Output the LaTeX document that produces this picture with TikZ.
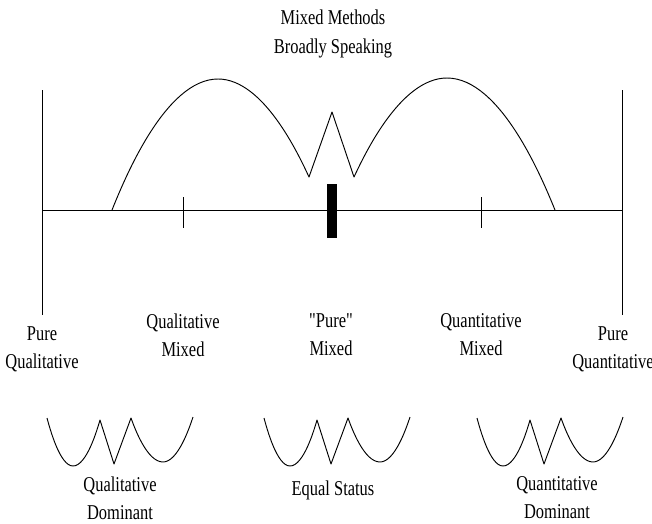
\documentclass[tikz,border=0pt]{standalone}
\usepackage{fontspec}
\setmainfont[FakeStretch=0.78]{Liberation Serif}
\newfontfamily\rawserif[FakeStretch=0.78]{Liberation Serif}
\usepackage{tikz}
\usetikzlibrary{positioning,calc}

\begin{document}
\begin{tikzpicture}[
    x=0.03cm, y=-0.03cm,
    lbl/.style={align=center, font=\fontsize{18}{24}\selectfont, inner sep=0pt},
    ln/.style={line width=0.8pt, line join=round},
    squig/.style={ln}
]
\useasboundingbox (0,0) rectangle (652,523);

% continuum
\coordinate (qlTop) at (42,90);
\coordinate (qlBot) at (42,315);
\coordinate (qnTop) at (622,90);
\coordinate (qnBot) at (622,315);
\coordinate (axL) at (42,210);
\coordinate (axR) at (622,210);
\draw[ln] (qlTop) -- (qlBot);
\draw[ln] (qnTop) -- (qnBot);
\draw[ln] (axL) -- (axR);
\draw[ln] (183,197) -- (183,228);
\draw[ln] (481,197) -- (481,228);
\fill (327,184) rectangle (337,238);

% broad arches
\draw[ln] (112,210) parabola bend (218,79) (309,177)
    -- (332,112) -- (354,177)
    parabola bend (447,78) (555,210);

% emphasis squiggles
\foreach \dx in {0,217,430}{
  \draw[squig, shift={(\dx,0)}] (47,418) parabola bend (73,466) (100,420)
      -- (114,464) -- (131,418) parabola bend (163,462) (193,417);
}

% labels
\node[lbl] (top) at (333,34) {Mixed Methods\\Broadly Speaking};
\node[lbl] (pureQual) at (42,349) {Pure\\Qualitative};
\node[lbl] (qualMixed) at (183,335) {Qualitative\\Mixed};
\node[lbl] (pureMixed) at (331,335) {{\rawserif"Pure"}\\Mixed};
\node[lbl] (quantMixed) at (481,335) {Quantitative\\Mixed};
\node[lbl] (pureQuant) at (613,349) {Pure\\Quantitative};
\node[lbl] (qualDom) at (120,498) {Qualitative\\Dominant};
\node[lbl] (equal) at (333,490) {Equal Status};
\node[lbl] (quantDom) at (557,498) {Quantitative\\Dominant};
\end{tikzpicture}
\end{document}
